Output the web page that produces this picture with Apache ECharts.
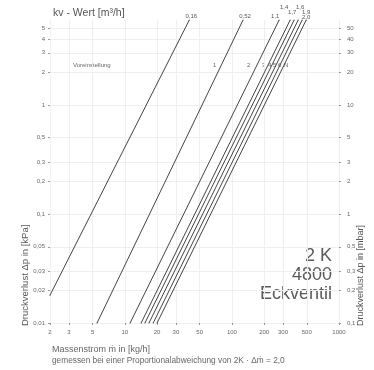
<!DOCTYPE html>
<html>
<head>
<meta charset="utf-8">
<script src="https://cdn.jsdelivr.net/npm/echarts@6/dist/echarts.min.js"></script>
<style>
  html, body { margin: 0; padding: 0; background: #fff; }
  #main { width: 374px; height: 370px; }
</style>
</head>
<body>
<div id="main"></div>
<script>
// Massenstrom [kg/h] und Druckverlust [kPa] an Anfang und Ende jeder Kennlinie
var startFlow = [2.0, 5.5, 11.2, 14.2, 15.4, 16.8, 18.4, 20.0];
var startDp   = [0.018, 0.01, 0.01, 0.01, 0.01, 0.01, 0.01, 0.01];
var endFlow   = [40, 127, 276, 350, 381, 416, 453, 494];
var endDp     = [6, 6, 6, 6, 6, 6, 6, 6];
var kvLabels  = ['0,16', '0,52', '1,1', '1,4', '1,6', '1,7', '1,9', '2,0'];
var presets   = ['', '1', '2', '3', '4', '5', '6', 'N'];

var xTicks  = [2, 3, 5, 10, 20, 30, 50, 100, 200, 300, 500, 1000];
var yTicks  = [0.01, 0.02, 0.03, 0.05, 0.1, 0.2, 0.3, 0.5, 1, 2, 3, 4, 5];
var y2Ticks = [0.1, 0.2, 0.3, 0.5, 1, 2, 3, 5, 10, 20, 30, 40, 50];

// versatz der kv-beschriftungen oben (buendel gestapelt)
var labelOffsets = [[2, 2], [2, 2], [-4, 2], [-6, -7], [6, -7], [-6, -2], [4, -2], [0, 3]];
// x-position der voreinstellungs-ziffern
var presetX = [0, 213, 247, 262, 268, 273, 278, 284];

var myChart = echarts.init(document.getElementById('main'));

function komma(v) {
    return String(v).replace('.', ',');
}

var series = [];
for (var i = 0; i < startFlow.length; i++) {
    series.push({
        name: kvLabels[i],
        type: 'line',
        symbol: 'circle',
        symbolSize: 1,
        showSymbol: true,
        silent: true,
        itemStyle: { color: '#444' },
        lineStyle: { color: '#444', width: 1 },
        data: [
            [startFlow[i], startDp[i]],
            {
                value: [endFlow[i], endDp[i]],
                label: {
                    show: true,
                    position: 'top',
                    offset: labelOffsets[i],
                    formatter: kvLabels[i],
                    fontSize: 6,
                    color: '#555',
                    distance: 2
                }
            }
        ]
    });
}

var graphics = [
    { type: 'text', left: 53, top: 8, style: { text: 'kv - Wert [m³/h]', fontSize: 10.5, fill: '#555' } },
    { type: 'text', left: 73, top: 62, style: { text: 'Voreinstellung', fontSize: 6, fill: '#666' } },
    { type: 'text', left: 52, top: 345, style: { text: 'Massenstrom ṁ in [kg/h]', fontSize: 9, fill: '#666' } },
    { type: 'text', left: 52, top: 357, style: { text: 'gemessen bei einer Proportionalabweichung von 2K · Δṁ = 2,0', fontSize: 8.3, fill: '#666' } },
    { type: 'text', x: 25, y: 326, rotation: Math.PI / 2, style: { text: 'Druckverlust Δp in [kPa]', fontSize: 9.5, fill: '#555', textAlign: 'left', textVerticalAlign: 'middle' } },
    { type: 'text', x: 361, y: 326, rotation: Math.PI / 2, style: { text: 'Druckverlust Δp in [mbar]', fontSize: 9, fill: '#555', textAlign: 'left', textVerticalAlign: 'middle' } },
    { type: 'text', x: 332, y: 247, style: { text: '2 K\n4800\nEckventil', fontSize: 18, lineHeight: 19, fill: '#5a5a5a', fontWeight: 'normal', textAlign: 'right', fontFamily: 'Liberation Sans' } }
];
for (var j = 1; j < presets.length; j++) {
    graphics.push({ type: 'text', left: presetX[j], top: 62, style: { text: presets[j], fontSize: 6, fill: '#666' } });
}

var option = {
    animation: false,
    backgroundColor: '#fff',
    grid: { left: 50, right: 35, top: 20, bottom: 47 },
    xAxis: {
        type: 'log',
        min: 2,
        max: 1000,
        axisLine: { show: false },
        axisTick: { show: true, length: 2, lineStyle: { color: '#999' }, customValues: xTicks },
        axisLabel: { fontSize: 6, color: '#666', margin: 6, customValues: xTicks, formatter: komma },
        splitLine: { show: true, lineStyle: { color: '#efefef', width: 1 } }
    },
    yAxis: [{
        type: 'log',
        min: 0.01,
        max: 6,
        axisLine: { show: false },
        axisTick: { show: true, length: 2, lineStyle: { color: '#999' }, customValues: yTicks },
        axisLabel: { fontSize: 6, color: '#666', margin: 5, customValues: yTicks, formatter: komma },
        splitLine: { show: true, lineStyle: { color: '#efefef', width: 1 } }
    }, {
        type: 'log',
        min: 0.1,
        max: 60,
        position: 'right',
        axisLine: { show: false },
        axisTick: { show: true, length: 2, lineStyle: { color: '#999' }, customValues: y2Ticks },
        axisLabel: { fontSize: 6, color: '#666', margin: 8, customValues: y2Ticks, formatter: komma },
        splitLine: { show: false }
    }],
    graphic: graphics,
    series: series
};

myChart.setOption(option);
</script>
</body>
</html>
